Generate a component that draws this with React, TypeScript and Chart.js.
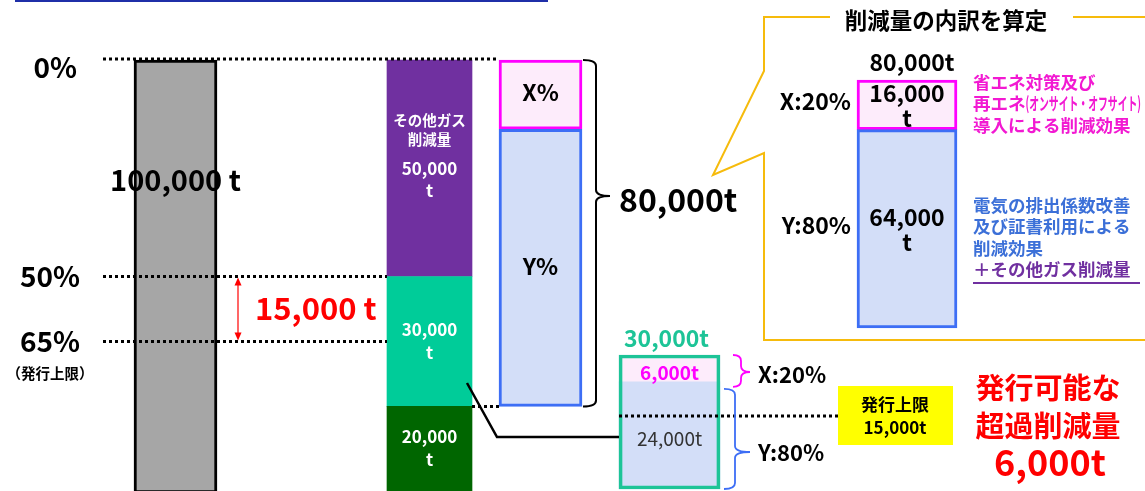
import React, { useEffect, useRef } from 'react';
import { Chart, registerables } from 'chart.js';

Chart.register(...registerables);

// ---------------- data ----------------
const baselineBar: [number, number] = [0, 100000];
const baselineLabel = '100,000 t';

const levelValues = [0, 50000, 65000];
const levelLabels = ['0%', '50%', '65%'];
const capNote = '（発行上限）';
const capGapRange: [number, number] = [50000, 65000];
const capGapLabel = '15,000 t';

const breakdownRanges: [number, number][] = [[0, 50000], [50000, 80000], [80000, 100000]];
const breakdownValueLabels = ['50,000', '30,000', '20,000'];
const breakdownNameLines = ['その他ガス', '削減量'];

const reductionRanges: [number, number][] = [[0, 16000], [16000, 80000]];
const reductionLabels = ['X%', 'Y%'];
const reductionTotalLabel = '80,000t';

const excessRanges: [number, number][] = [[0, 6000], [6000, 30000]];
const excessValueLabels = ['6,000t', '24,000t'];
const excessTotalLabel = '30,000t';
const excessShareLabels = ['X:20%', 'Y:80%'];
const capBoxLines = ['発行上限', '15,000t'];
const resultLines = ['発行可能な', '超過削減量', '6,000t'];

const insetTitle = '削減量の内訳を算定';
const insetRanges: [number, number][] = [[0, 16000], [16000, 80000]];
const insetValueLabels = ['16,000', '64,000'];
const insetShareLabels = ['X:20%', 'Y:80%'];
const insetTotalLabel = '80,000t';
const xNoteLines = ['省エネ対策及び', '再エネ', '導入による削減効果'];
const xNoteSmall = '(オンサイト・オフサイト)';
const yNoteLines = ['電気の排出係数改善', '及び証書利用による', '削減効果'];
const yNoteExtra = '＋その他ガス削減量';

// ---------------- layout / style ----------------
const W = 1145;
const H = 491;
const COL = { base: 175.5, breakdown: 429.5, reduction: 540.5, excess: 669.5, inset: 907 };
const FONT = '"Noto Sans CJK JP", "Noto Sans", sans-serif';

const C = {
  gray: '#A6A6A6',
  purple: '#7030A0',
  green: '#00CC99',
  dark: '#006600',
  pink: '#FDECFB',
  magenta: '#FF00FF',
  blueFill: '#D3DEF8',
  blue: '#3D6EF5',
  teal: '#1DC497',
  red: '#FF0000',
  gold: '#F6BB0C',
  noteMag: '#F219D2',
  noteBlue: '#3C70D8',
};

function axisRange(zeroPx: number, pxPerUnit: number) {
  return { min: -zeroPx / pxPerUnit, max: (H - zeroPx) / pxPerUnit };
}
const mainRange = axisRange(60, 0.00433);
const excessRange = axisRange(355, 134 / 30000);
const insetRange = axisRange(80, 248 / 80000);

function txt(ctx: CanvasRenderingContext2D, s: string, x: number, y: number, size: number, color: string, align: CanvasTextAlign = 'center', weight = 'bold') {
  ctx.font = `${weight} ${size}px ${FONT}`;
  ctx.fillStyle = color;
  ctx.textAlign = align;
  ctx.textBaseline = 'middle';
  ctx.fillText(s, x, y);
}

function dotted(ctx: CanvasRenderingContext2D, x0: number, x1: number, y: number) {
  ctx.save();
  ctx.strokeStyle = '#000';
  ctx.lineWidth = 3;
  ctx.setLineDash([3, 3]);
  ctx.beginPath();
  ctx.moveTo(x0, y);
  ctx.lineTo(x1, y);
  ctx.stroke();
  ctx.restore();
}

function brace(ctx: CanvasRenderingContext2D, x0: number, xm: number, x1: number, yTop: number, yBot: number, yTip: number, color: string, lw = 2) {
  const r = Math.min(6, (yBot - yTop) / 4);
  ctx.save();
  ctx.strokeStyle = color;
  ctx.lineWidth = lw;
  ctx.beginPath();
  ctx.moveTo(x0, yTop);
  ctx.quadraticCurveTo(xm, yTop, xm, yTop + r);
  ctx.lineTo(xm, yTip - r);
  ctx.quadraticCurveTo(xm, yTip, x1, yTip);
  ctx.quadraticCurveTo(xm, yTip, xm, yTip + r);
  ctx.lineTo(xm, yBot - r);
  ctx.quadraticCurveTo(xm, yBot, x0, yBot);
  ctx.stroke();
  ctx.restore();
}

const annotate = {
  id: 'annotate',
  afterDraw(chart: any) {
    const ctx: CanvasRenderingContext2D = chart.ctx;
    const y = chart.scales.y;
    const y2 = chart.scales.y2;
    const y3 = chart.scales.y3;
    const py = (v: number) => y.getPixelForValue(v);
    const py2 = (v: number) => y2.getPixelForValue(v);
    const py3 = (v: number) => y3.getPixelForValue(v);
    ctx.save();

    // top rule
    ctx.fillStyle = '#1F2FA8';
    ctx.fillRect(15, 0, 533, 2);

    // level lines and labels
    levelValues.forEach((v, i) => {
      const yy = py(v) - (v === 0 ? 1 : 0);
      dotted(ctx, 103, v === 0 ? 499 : 387, yy);
      txt(ctx, levelLabels[i], v === 0 ? 77 : 80, py(v) + (v === 0 ? 7 : 0), 28, '#000', 'right');
    });
    txt(ctx, capNote, 50, 373, 14.5, '#000');
    dotted(ctx, 472, 499, py(80000));

    // baseline label
    txt(ctx, baselineLabel, COL.base, 180, 29, '#000');

    // red double arrow
    const ax = 238;
    const a0 = py(capGapRange[0]) + 1;
    const a1 = py(capGapRange[1]) - 1;
    ctx.strokeStyle = C.red;
    ctx.fillStyle = C.red;
    ctx.lineWidth = 1.2;
    ctx.beginPath();
    ctx.moveTo(ax, a0 + 6);
    ctx.lineTo(ax, a1 - 6);
    ctx.stroke();
    ctx.beginPath();
    ctx.moveTo(ax, a0); ctx.lineTo(ax - 3.5, a0 + 8); ctx.lineTo(ax + 3.5, a0 + 8); ctx.closePath(); ctx.fill();
    ctx.beginPath();
    ctx.moveTo(ax, a1); ctx.lineTo(ax - 3.5, a1 - 8); ctx.lineTo(ax + 3.5, a1 - 8); ctx.closePath(); ctx.fill();
    txt(ctx, capGapLabel, 255, (a0 + a1) / 2 - 1, 31, C.red, 'left');

    // breakdown labels
    breakdownRanges.forEach((r, i) => {
      const c = (py(r[0]) + Math.min(py(r[1]), H)) / 2;
      if (i === 0) {
        txt(ctx, breakdownNameLines[0], COL.breakdown, c - 48, 14.5, '#fff');
        txt(ctx, breakdownNameLines[1], COL.breakdown, c - 29, 14.5, '#fff');
        txt(ctx, breakdownValueLabels[i], COL.breakdown, c, 17, '#fff');
        txt(ctx, 't', COL.breakdown, c + 22, 17, '#fff');
      } else {
        txt(ctx, breakdownValueLabels[i], COL.breakdown, c - 12, 17, '#fff');
        txt(ctx, 't', COL.breakdown, c + 11, 17, '#fff');
      }
    });

    // reduction labels + brace
    reductionRanges.forEach((r, i) => {
      txt(ctx, reductionLabels[i], COL.reduction, (py(r[0]) + py(r[1])) / 2 - 2, 23, '#000');
    });
    brace(ctx, 583, 596, 610, py(0), py(80000), 196, '#000', 2);
    txt(ctx, reductionTotalLabel, 619, 200, 32, '#000', 'left');

    // connector
    ctx.strokeStyle = '#000';
    ctx.lineWidth = 2.5;
    ctx.beginPath();
    ctx.moveTo(467, 383);
    ctx.lineTo(497, 437);
    ctx.lineTo(619, 437);
    ctx.stroke();

    // excess bar
    txt(ctx, excessTotalLabel, COL.excess - 3, 338, 23, C.teal);
    const e0 = (py2(excessRanges[0][0]) + py2(excessRanges[0][1])) / 2;
    const e1 = (py2(excessRanges[1][0]) + py2(excessRanges[1][1])) / 2;
    txt(ctx, excessValueLabels[0], COL.excess, e0 + 4, 19, C.magenta);
    txt(ctx, excessValueLabels[1], COL.excess, e1 + 3, 19, '#333', 'center', 'normal');
    dotted(ctx, 619, 838, 416);
    brace(ctx, 733, 741, 750, py2(0), py2(6000) + 5, 372, C.magenta, 1.8);
    brace(ctx, 724, 735, 750, py2(6000) + 7, py2(30000), 452, C.blue, 1.8);
    txt(ctx, excessShareLabels[0], 758, 375, 22, '#000', 'left');
    txt(ctx, excessShareLabels[1], 758, 453, 22, '#000', 'left');

    // cap box
    ctx.fillStyle = '#FFFF00';
    ctx.fillRect(838, 386, 115, 59);
    txt(ctx, capBoxLines[0], 895, 405, 17, '#000');
    txt(ctx, capBoxLines[1], 895, 428, 17, '#000');

    // result text
    txt(ctx, resultLines[0], 1048, 388, 29, C.red);
    txt(ctx, resultLines[1], 1048, 426, 29, C.red);
    txt(ctx, resultLines[2], 1050, 462, 36, C.red);

    // callout frame
    ctx.strokeStyle = C.gold;
    ctx.lineWidth = 2;
    ctx.setLineDash([]);
    ctx.beginPath();
    ctx.moveTo(830, 17);
    ctx.lineTo(764, 17);
    ctx.lineTo(764, 71);
    ctx.lineTo(713, 175);
    ctx.lineTo(764, 153);
    ctx.lineTo(764, 340);
    ctx.lineTo(W, 340);
    ctx.moveTo(1073, 17);
    ctx.lineTo(W, 17);
    ctx.stroke();
    txt(ctx, insetTitle, 946, 20, 22.5, '#000');

    // inset
    txt(ctx, insetTotalLabel, COL.inset + 5, 62, 23, '#000');
    insetRanges.forEach((r, i) => {
      const c = (py3(r[0]) + py3(r[1])) / 2;
      txt(ctx, insetValueLabels[i], COL.inset, c - 12, 23, '#000');
      txt(ctx, 't', COL.inset, c + 13, 23, '#000');
      txt(ctx, insetShareLabels[i], 851, c - 4, 23, '#000', 'right');
    });
    const noteX = 973;
    const noteRight = 1141;
    xNoteLines.forEach((s, i) => {
      const yy = 82 + i * 21.5;
      txt(ctx, s, noteX, yy, 17.5, C.noteMag, 'left');
      if (i === 1) {
        ctx.save();
        ctx.font = `bold 17.5px ${FONT}`;
        const w = ctx.measureText(s).width;
        const w2 = ctx.measureText(xNoteSmall).width;
        const sx = (noteRight - noteX - w) / w2;
        ctx.translate(noteX + w, yy);
        ctx.scale(sx, 1);
        txt(ctx, xNoteSmall, 0, 0, 17.5, C.noteMag, 'left');
        ctx.restore();
      }
    });
    yNoteLines.forEach((s, i) => txt(ctx, s, noteX, 205 + i * 21.5, 17.5, C.noteBlue, 'left'));
    txt(ctx, yNoteExtra, noteX, 205 + 3 * 21.5, 17.5, C.purple, 'left');
    ctx.fillStyle = C.purple;
    ctx.fillRect(noteX, 282, 167, 2);

    ctx.restore();
  },
};

export default function App() {
  const ref = useRef<HTMLCanvasElement>(null);
  useEffect(() => {
    if (!ref.current) return;
    const pt = (x: number, r: [number, number]) => ({ x, y: r });
    const chart = new Chart(ref.current, {
      type: 'bar',
      data: {
        datasets: [
          {
            label: '排出量',
            data: [pt(COL.base, baselineBar)] as any,
            backgroundColor: C.gray,
            borderColor: '#000',
            borderWidth: 3,
            borderSkipped: false,
            barThickness: 83,
            grouped: false,
            yAxisID: 'y',
            order: 5,
          },
          {
            label: '削減内訳',
            data: breakdownRanges.map((r) => pt(COL.breakdown, r)) as any,
            backgroundColor: [C.purple, C.green, C.dark],
            borderWidth: 0,
            barThickness: 85,
            grouped: false,
            yAxisID: 'y',
            order: 5,
          },
          {
            label: '削減量',
            data: reductionRanges.map((r) => pt(COL.reduction, r)) as any,
            backgroundColor: [C.pink, C.blueFill],
            borderColor: [C.magenta, C.blue],
            borderWidth: 3,
            borderSkipped: false,
            barThickness: 83,
            grouped: false,
            yAxisID: 'y',
            order: 5,
          },
          {
            label: '超過削減量 枠',
            data: [pt(COL.excess, [0, 30000])] as any,
            backgroundColor: 'rgba(0,0,0,0)',
            borderColor: C.teal,
            borderWidth: 3,
            borderSkipped: false,
            barThickness: 101,
            grouped: false,
            yAxisID: 'y2',
            order: 0,
          },
          {
            label: '超過削減量',
            data: excessRanges.map((r) => pt(COL.excess, r)) as any,
            backgroundColor: [C.pink, C.blueFill],
            borderWidth: 0,
            barThickness: 101,
            grouped: false,
            yAxisID: 'y2',
            order: 3,
          },
          {
            label: '内訳',
            data: insetRanges.map((r) => pt(COL.inset, r)) as any,
            backgroundColor: [C.pink, C.blueFill],
            borderColor: [C.magenta, C.blue],
            borderWidth: 3,
            borderSkipped: false,
            barThickness: 100,
            grouped: false,
            yAxisID: 'y3',
            order: 5,
          },
        ],
      },
      options: {
        animation: false,
        responsive: true,
        maintainAspectRatio: false,
        events: [],
        layout: { padding: 0 },
        plugins: { legend: { display: false }, tooltip: { enabled: false } },
        scales: {
          x: { type: 'linear', min: 0, max: W, offset: false, display: false },
          y: { type: 'linear', reverse: true, min: mainRange.min, max: mainRange.max, display: false },
          y2: { type: 'linear', reverse: true, min: excessRange.min, max: excessRange.max, display: false },
          y3: { type: 'linear', reverse: true, min: insetRange.min, max: insetRange.max, display: false },
        },
      } as any,
      plugins: [annotate],
    });
    return () => chart.destroy();
  }, []);
  return (
    <div style={{ position: 'absolute', left: 0, top: 0, width: W, height: H, background: '#fff' }}>
      <canvas ref={ref} style={{ display: 'block' }} />
    </div>
  );
}
